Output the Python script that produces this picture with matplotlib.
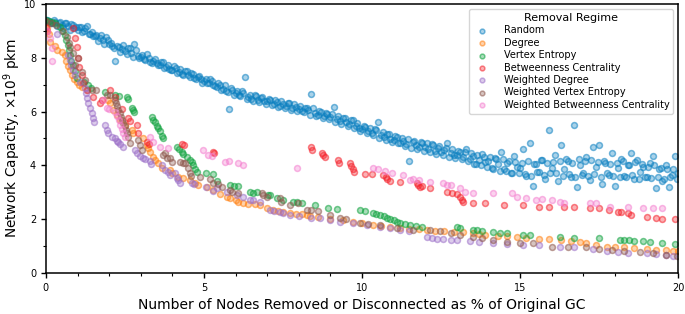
import matplotlib
matplotlib.use('Agg')
import matplotlib.pyplot as plt
from matplotlib.colors import to_rgba
from matplotlib.ticker import MultipleLocator

# Random removal: main pass (x step 0.1)
random_x_a = [
    0.0, 0.1, 0.2, 0.3, 0.4, 0.5, 0.6, 0.7, 0.8, 0.9,
    1.0, 1.1, 1.2, 1.3, 1.4, 1.5, 1.6, 1.7, 1.8, 1.9,
    2.0, 2.1, 2.2, 2.3, 2.4, 2.5, 2.6, 2.7, 2.8, 2.9,
    3.0, 3.1, 3.2, 3.3, 3.4, 3.5, 3.6, 3.7, 3.8, 3.9,
    4.0, 4.1, 4.2, 4.3, 4.4, 4.5, 4.6, 4.7, 4.8, 4.9,
    5.0, 5.1, 5.2, 5.3, 5.4, 5.5, 5.6, 5.7, 5.8, 5.9,
    6.0, 6.1, 6.2, 6.3, 6.4, 6.5, 6.6, 6.7, 6.8, 6.9,
    7.0, 7.1, 7.2, 7.3, 7.4, 7.5, 7.6, 7.7, 7.8, 7.9,
    8.0, 8.1, 8.2, 8.3, 8.4, 8.5, 8.6, 8.7, 8.8, 8.9,
    9.0, 9.1, 9.2, 9.3, 9.4, 9.5, 9.6, 9.7, 9.8, 9.9,
    10.0, 10.1, 10.2, 10.3, 10.4, 10.5, 10.6, 10.7, 10.8, 10.9,
    11.0, 11.1, 11.2, 11.3, 11.4, 11.5, 11.6, 11.7, 11.8, 11.9,
    12.0, 12.1, 12.2, 12.3, 12.4, 12.5, 12.6, 12.7, 12.8, 12.9,
    13.0, 13.1, 13.2, 13.3, 13.4, 13.5, 13.6, 13.7, 13.8, 13.9,
    14.0, 14.1, 14.2, 14.3, 14.4, 14.5, 14.6, 14.7, 14.8, 14.9,
    15.0, 15.1, 15.2, 15.3, 15.4, 15.5, 15.6, 15.7, 15.8, 15.9,
    16.0, 16.1, 16.2, 16.3, 16.4, 16.5, 16.6, 16.7, 16.8, 16.9,
    17.0, 17.1, 17.2, 17.3, 17.4, 17.5, 17.6, 17.7, 17.8, 17.9,
    18.0, 18.1, 18.2, 18.3, 18.4, 18.5, 18.6, 18.7, 18.8, 18.9,
    19.0, 19.1, 19.2, 19.3, 19.4, 19.5, 19.6, 19.7, 19.8, 19.9,
    20.0]
random_y_a = [
    9.42, 9.38, 9.30, 9.35, 9.28, 9.22, 9.30, 9.18, 9.25, 9.12,
    9.05, 9.15, 8.98, 9.20, 8.90, 8.80, 8.85, 8.72, 8.65, 8.78,
    8.50, 8.45, 7.88, 8.40, 8.32, 8.25, 8.35, 8.18, 8.50, 8.05,
    8.02, 7.95, 8.15, 7.85, 7.90, 7.80, 7.72, 7.85, 7.65, 7.60,
    7.55, 7.62, 7.48, 7.40, 7.52, 7.35, 7.45, 7.25, 7.30, 7.20,
    7.15, 7.05, 7.22, 6.98, 6.92, 7.00, 6.85, 6.78, 6.10, 6.80,
    6.70, 6.62, 6.75, 7.27, 6.55, 6.48, 6.60, 6.45, 6.52, 6.38,
    6.40, 6.45, 6.30, 6.35, 6.22, 6.28, 6.20, 6.32, 6.12, 6.18,
    6.10, 6.02, 6.15, 6.05, 6.64, 5.95, 5.88, 6.00, 5.85, 5.92,
    5.80, 6.17, 5.72, 5.65, 5.78, 5.60, 5.52, 5.68, 5.45, 5.40,
    5.35, 5.42, 5.28, 5.20, 5.35, 5.63, 5.12, 5.05, 5.18, 4.98,
    4.95, 5.05, 4.85, 4.92, 4.80, 4.16, 4.88, 4.75, 4.70, 4.82,
    4.70, 4.62, 4.78, 4.55, 4.65, 4.50, 4.58, 4.85, 4.45, 4.38,
    4.40, 4.48, 4.30, 4.60, 4.25, 4.35, 4.05, 4.20, 4.42, 4.12,
    4.15, 3.90, 4.28, 4.05, 4.50, 3.85, 4.10, 3.70, 4.35, 3.95,
    3.92, 4.60, 3.60, 4.83, 3.23, 4.05, 3.75, 4.20, 3.50, 5.32,
    3.90, 4.40, 3.40, 4.77, 3.85, 4.15, 3.55, 5.50, 3.20, 4.00,
    3.70, 4.30, 3.45, 4.70, 3.95, 4.77, 3.30, 4.10, 3.65, 4.45,
    3.22, 3.90, 4.25, 3.60, 4.00, 4.46, 3.50, 4.21, 3.75, 3.95,
    3.55, 4.10, 4.34, 3.15, 3.85, 3.40, 4.00, 3.20, 3.65, 4.34,
    3.70]

# Random removal: second pass (offset by half a step)
random_x_b = [
    0.05, 0.15, 0.25, 0.35, 0.45, 0.55, 0.65, 0.75, 0.85, 0.95,
    1.05, 1.15, 1.25, 1.35, 1.45, 1.55, 1.65, 1.75, 1.85, 1.95,
    2.05, 2.15, 2.25, 2.35, 2.45, 2.55, 2.65, 2.75, 2.85, 2.95,
    3.05, 3.15, 3.25, 3.35, 3.45, 3.55, 3.65, 3.75, 3.85, 3.95,
    4.05, 4.15, 4.25, 4.35, 4.45, 4.55, 4.65, 4.75, 4.85, 4.95,
    5.05, 5.15, 5.25, 5.35, 5.45, 5.55, 5.65, 5.75, 5.85, 5.95,
    6.05, 6.15, 6.25, 6.35, 6.45, 6.55, 6.65, 6.75, 6.85, 6.95,
    7.05, 7.15, 7.25, 7.35, 7.45, 7.55, 7.65, 7.75, 7.85, 7.95,
    8.05, 8.15, 8.25, 8.35, 8.45, 8.55, 8.65, 8.75, 8.85, 8.95,
    9.05, 9.15, 9.25, 9.35, 9.45, 9.55, 9.65, 9.75, 9.85, 9.95,
    10.05, 10.15, 10.25, 10.35, 10.45, 10.55, 10.65, 10.75, 10.85, 10.95,
    11.05, 11.15, 11.25, 11.35, 11.45, 11.55, 11.65, 11.75, 11.85, 11.95,
    12.05, 12.15, 12.25, 12.35, 12.45, 12.55, 12.65, 12.75, 12.85, 12.95,
    13.05, 13.15, 13.25, 13.35, 13.45, 13.55, 13.65, 13.75, 13.85, 13.95,
    14.05, 14.15, 14.25, 14.35, 14.45, 14.55, 14.65, 14.75, 14.85, 14.95,
    15.05, 15.15, 15.25, 15.35, 15.45, 15.55, 15.65, 15.75, 15.85, 15.95,
    16.05, 16.15, 16.25, 16.35, 16.45, 16.55, 16.65, 16.75, 16.85, 16.95,
    17.05, 17.15, 17.25, 17.35, 17.45, 17.55, 17.65, 17.75, 17.85, 17.95,
    18.05, 18.15, 18.25, 18.35, 18.45, 18.55, 18.65, 18.75, 18.85, 18.95,
    19.05, 19.15, 19.25, 19.35, 19.45, 19.55, 19.65, 19.75, 19.85, 19.95]
random_y_b = [
    9.40, 9.28, 9.42, 9.20, 9.35, 9.12, 9.28, 9.05, 9.22, 9.15,
    9.15, 8.95, 9.12, 8.88, 8.95, 8.80, 8.62, 8.85, 8.52, 8.68,
    8.55, 8.35, 8.45, 8.20, 8.48, 8.15, 8.35, 8.02, 8.28, 7.98,
    8.10, 7.92, 8.00, 7.82, 7.95, 7.75, 7.85, 7.62, 7.72, 7.55,
    7.68, 7.42, 7.60, 7.38, 7.50, 7.28, 7.40, 7.22, 7.32, 7.08,
    7.20, 7.05, 7.12, 6.95, 7.05, 6.80, 6.98, 6.72, 6.88, 6.62,
    6.78, 6.58, 6.70, 6.48, 6.62, 6.40, 6.58, 6.35, 6.55, 6.30,
    6.48, 6.25, 6.45, 6.18, 6.38, 6.12, 6.32, 6.05, 6.28, 6.02,
    6.20, 5.98, 6.15, 5.88, 6.12, 5.82, 6.02, 5.78, 5.95, 5.72,
    5.90, 5.62, 5.85, 5.55, 5.75, 5.45, 5.70, 5.38, 5.58, 5.28,
    5.48, 5.22, 5.40, 5.12, 5.32, 5.02, 5.25, 4.95, 5.15, 4.88,
    5.08, 4.82, 5.00, 4.72, 4.98, 4.65, 4.92, 4.60, 4.88, 4.55,
    4.82, 4.50, 4.75, 4.42, 4.72, 4.38, 4.65, 4.30, 4.60, 4.28,
    4.55, 4.22, 4.50, 4.15, 4.45, 4.05, 4.38, 4.00, 4.32, 3.95,
    4.30, 3.88, 4.25, 3.80, 4.22, 3.78, 4.15, 3.72, 4.12, 3.70,
    4.10, 3.68, 4.15, 3.62, 4.05, 3.75, 4.20, 3.65, 4.08, 3.72,
    4.12, 3.70, 4.18, 3.62, 4.25, 3.68, 4.10, 3.58, 4.22, 3.65,
    4.15, 3.60, 4.20, 3.66, 4.12, 3.55, 4.18, 3.70, 4.05, 3.62,
    4.10, 3.58, 4.15, 3.55, 4.02, 3.65, 4.12, 3.50, 4.05, 3.58,
    3.95, 3.52, 4.00, 3.58, 3.92, 3.48, 3.88, 3.55, 3.85, 3.50]

# Degree
degree_x = [0.0, 0.05, 0.1, 0.13, 0.3, 0.35, 0.5, 0.6, 0.65, 0.7, 0.75, 0.82, 0.9, 0.97,
            1.05, 1.14, 1.3, 1.97, 2.03, 2.13, 2.24, 2.34, 2.5, 2.72, 2.76, 3.08, 3.19,
            3.24, 3.29, 3.39, 3.45, 3.55, 3.66, 3.92, 3.98, 4.18, 4.35, 4.56, 4.72, 4.82,
            5.1, 5.3, 5.5, 5.72, 5.82, 6.0, 6.08, 6.23, 6.4, 6.6, 6.77, 7.0, 7.18, 7.35,
            7.5, 7.72, 7.9, 8.1, 8.26, 8.35, 8.6, 9.0, 9.4, 9.7, 10.0, 10.35, 10.6, 10.9,
            11.2, 11.5, 11.8, 12.05, 12.3, 12.6, 12.9, 13.2, 13.5, 13.7, 13.9, 14.3, 14.6,
            14.9, 15.2, 15.6, 15.9, 16.3, 16.6, 16.9, 17.1, 17.4, 17.75, 18.0, 18.3, 18.6,
            19.0, 19.3, 19.6, 19.85, 20.0]
degree_y = [9.35, 9.1, 8.9, 8.6, 8.45, 8.29, 8.2, 8.1, 7.9, 7.7, 7.55, 7.36, 7.2, 7.1,
            7.0, 6.92, 6.8, 6.43, 6.31, 6.06, 5.87, 5.69, 5.5, 5.32, 5.2, 5.0, 4.76,
            4.64, 4.5, 4.31, 4.2, 4.08, 3.9, 3.83, 3.71, 3.57, 3.53, 3.46, 3.35, 3.27,
            3.2, 3.08, 2.95, 2.83, 2.79, 2.7, 2.64, 2.6, 2.58, 2.55, 2.53, 2.42, 2.34, 2.3,
            2.27, 2.23, 2.2, 2.18, 2.16, 2.1, 2.06, 2.02, 1.97, 1.9, 1.85, 1.78, 1.74, 1.7,
            1.67, 1.64, 1.62, 1.6, 1.57, 1.55, 1.53, 1.52, 1.49, 1.46, 1.42, 1.38, 1.36,
            1.34, 1.3, 1.26, 1.25, 1.23, 1.2, 1.15, 1.1, 1.02, 0.97, 0.96, 0.95, 0.92,
            0.89, 0.86, 0.84, 0.82, 0.8]

# Vertex Entropy
ve_x = [0.0, 0.1, 0.2, 0.3, 0.44, 0.5, 0.6, 0.65, 0.7, 0.73, 0.76, 0.8, 0.86, 0.92, 0.98,
        1.2, 1.33, 1.43, 1.87, 2.18, 2.3, 2.56, 2.6, 2.72, 2.76, 2.8, 3.35, 3.4, 3.45, 3.5,
        3.55, 3.6, 3.66, 3.7, 4.14, 4.2, 4.3, 4.35, 4.45, 4.56, 4.61, 4.66, 4.72, 4.77, 5.08,
        5.3, 5.4, 5.82, 5.95, 6.08, 6.46, 6.55, 6.67, 7.03, 7.1, 7.3, 7.5, 7.82, 7.95, 8.1,
        8.5, 8.93, 9.2, 9.94, 10.1, 10.35, 10.45, 10.57, 10.7, 10.8, 10.9, 11.0, 11.1, 11.2,
        11.35, 11.52, 11.7, 11.9, 13.0, 13.1, 13.5, 13.65, 13.8, 14.15, 14.35, 14.6, 15.1,
        15.3, 16.27, 16.7, 17.5, 18.16, 18.3, 18.45, 18.6, 18.9, 19.1, 19.5, 19.9]
ve_y = [9.42, 9.38, 9.32, 9.28, 9.15, 9.0, 8.85, 8.65, 8.48, 8.3, 8.1, 7.9, 7.73, 7.5, 7.25,
        7.1, 6.99, 6.87, 6.72, 6.62, 6.58, 6.54, 6.46, 6.13, 6.05, 5.99, 5.8, 5.7, 5.6, 5.45,
        5.39, 5.28, 5.1, 5.02, 4.68, 4.6, 4.5, 4.42, 4.32, 4.2, 4.13, 4.01, 3.85, 3.75, 3.72,
        3.66, 3.4, 3.27, 3.25, 3.22, 3.01, 2.98, 2.99, 2.9, 2.88, 2.8, 2.72, 2.64, 2.62, 2.6,
        2.53, 2.41, 2.39, 2.34, 2.3, 2.24, 2.2, 2.16, 2.1, 2.04, 2.0, 1.95, 1.9, 1.87,
        1.82, 1.78, 1.75, 1.72, 1.7, 1.68, 1.6, 1.58, 1.56, 1.53, 1.5, 1.47, 1.41,
        1.4, 1.34, 1.3, 1.3, 1.23, 1.22, 1.22, 1.2, 1.2, 1.15, 1.1, 1.08]

# Betweenness Centrality
bc_x = [0.0, 0.03, 0.86, 0.92, 0.98, 1.02, 1.05, 1.13, 1.16, 1.29, 1.5, 1.71, 1.78, 2.03,
        2.18, 2.4, 2.6, 2.66, 2.87, 2.92, 3.19, 3.25, 4.3, 4.38, 5.28, 5.32, 8.4, 8.42, 8.73,
        8.78, 8.83, 9.24, 9.27, 9.62, 9.66, 9.7, 9.75, 10.1, 10.3, 10.67, 10.75, 10.8, 10.9,
        11.2, 11.74, 11.78, 11.82, 11.9, 12.15, 12.7, 12.85, 13.0, 13.1, 13.15, 13.2, 13.5,
        13.9, 14.5, 15.1, 15.6, 15.9, 16.4, 16.7, 17.2, 17.5, 17.8, 18.1, 18.2, 18.4, 18.5,
        19.0, 19.3, 19.5, 19.9]
bc_y = [9.15, 9.0, 9.1, 8.73, 8.4, 7.98, 7.67, 7.36, 7.05, 6.8, 6.55, 6.31, 6.45, 6.8,
        6.55, 6.1, 5.75, 5.65, 5.5, 5.2, 4.87, 4.8, 4.8, 4.74, 4.5, 4.45, 4.68, 4.56, 4.46,
        4.4, 4.31, 4.2, 4.08, 4.08, 3.98, 3.88, 3.75, 3.68, 3.66, 3.64, 3.56, 3.5, 3.4,
        3.38, 3.35, 3.28, 3.2, 3.22, 3.16, 3.01, 2.98, 2.92, 2.83, 2.7, 2.64, 2.6,
        2.6, 2.53, 2.53, 2.45, 2.45, 2.45, 2.44, 2.41, 2.4, 2.34, 2.28, 2.25, 2.22, 2.14,
        2.08, 2.04, 2.02, 2.0]

# Weighted Degree
wd_x = [0.35, 0.7, 0.76, 0.8, 0.85, 0.92, 1.08, 1.23, 1.26, 1.29, 1.33, 1.39, 1.45, 1.5,
        1.52, 1.87, 1.92, 1.97, 2.08, 2.18, 2.24, 2.28, 2.34, 2.45, 2.82, 2.87, 2.97, 3.08,
        3.13, 3.29, 3.32, 3.66, 3.77, 3.85, 3.92, 4.08, 4.14, 4.18, 4.24, 4.61, 4.7, 5.08,
        5.3, 5.4, 5.72, 6.03, 6.23, 6.46, 6.55, 6.77, 7.09, 7.2, 7.4, 7.5, 7.72, 8.0, 8.4,
        8.67, 9.0, 9.3, 9.7, 10.16, 10.57, 10.9, 11.2, 11.5, 12.05, 12.2, 12.37, 12.55, 12.8,
        13.0, 13.4, 13.7, 14.15, 14.6, 15.1, 15.6, 16.27, 16.7, 17.3, 17.75, 18.1, 18.4,
        19.0, 19.3, 19.6, 19.85]
wd_y = [8.9, 8.1, 7.92, 7.75, 7.55, 7.36, 7.1, 6.88, 6.7, 6.5, 6.31, 6.13, 5.94, 5.75,
        5.62, 5.5, 5.32, 5.2, 5.06, 5.0, 4.92, 4.87, 4.8, 4.68, 4.57, 4.46, 4.33, 4.27,
        4.25, 4.15, 4.06, 4.01, 3.83, 3.75, 3.64, 3.7, 3.53, 3.46, 3.35, 3.35, 3.3, 3.18,
        3.05, 3.16, 3.01, 2.9, 2.83, 2.7, 2.71, 2.64, 2.34, 2.32, 2.27, 2.23, 2.16, 2.1, 2.05,
        2.04, 1.95, 1.9, 1.84, 1.78, 1.72, 1.66, 1.6, 1.57, 1.34, 1.3, 1.26, 1.25, 1.23,
        1.24, 1.18, 1.15, 1.1, 1.08, 1.04, 1.03, 0.97, 0.95, 0.89, 0.82, 0.79, 0.74,
        0.74, 0.72, 0.68, 0.63]

# Weighted Vertex Entropy
wve_x = [0.0, 0.15, 0.32, 0.55, 0.66, 0.72, 0.76, 0.85, 0.92, 1.0, 1.13, 1.23, 1.45, 1.6,
         1.93, 2.03, 2.18, 2.22, 2.25, 2.28, 2.34, 2.38, 2.42, 2.45, 2.5, 2.53, 2.56, 2.6,
         2.66, 2.92, 2.97, 3.03, 3.7, 3.77, 3.82, 3.92, 3.98, 4.24, 4.35, 4.4, 4.5, 4.55,
         4.6, 4.87, 5.19, 5.3, 5.45, 5.56, 5.82, 5.9, 6.08, 6.83, 6.87, 6.98, 7.4, 7.45,
         7.72, 7.98, 8.26, 8.4, 8.6, 8.99, 9.3, 9.5, 9.94, 10.2, 10.57, 11.1, 11.6, 12.15,
         12.47, 12.8, 13.1, 13.5, 13.8, 14.15, 14.6, 15.0, 15.4, 16.0, 16.5, 17.1, 17.5,
         17.9, 18.3, 18.8, 19.2, 19.6, 19.95]
wve_y = [9.38, 9.3, 9.22, 9.0, 8.77, 8.55, 8.4, 8.18, 7.73, 7.98, 7.48, 7.17, 6.8, 6.8,
         6.62, 6.62, 6.43, 6.31, 6.2, 6.06, 5.94, 5.8, 5.69, 5.57, 5.45, 5.32, 5.2, 5.05,
         4.85, 4.94, 4.76, 4.57, 4.39, 4.46, 4.27, 4.27, 4.13, 4.13, 4.1, 4.08, 3.9, 3.72,
         3.6, 3.57, 3.5, 3.35, 3.3, 3.2, 3.08, 3.01, 2.97, 2.97, 2.9, 2.83, 2.79, 2.64,
         2.53, 2.6, 2.34, 2.33, 2.3, 2.16, 2.04, 2.0, 1.86, 1.82, 1.78, 1.67, 1.6, 1.58,
         1.55, 1.47, 1.41, 1.34, 1.3, 1.23, 1.15, 1.12, 1.1, 0.97, 0.96, 0.95, 0.9,
         0.86, 0.82, 0.78, 0.74, 0.67, 0.63]

# Weighted Betweenness Centrality
wbc_x = [0.05, 0.13, 0.19, 0.2, 1.8, 1.93, 2.0, 2.18, 2.25, 2.3, 2.35, 2.4, 2.45, 2.5,
         3.29, 3.39, 3.6, 3.86, 4.97, 5.14, 5.24, 5.66, 5.8, 6.08, 6.25, 7.93, 10.35, 10.5,
         10.73, 10.94, 11.3, 11.52, 11.6, 11.8, 12.15, 12.57, 12.7, 12.8, 13.1, 13.26, 13.5,
         14.15, 14.75, 14.9, 15.2, 15.5, 15.7, 16.0, 16.27, 16.4, 17.2, 17.4, 17.85, 18.4,
         18.9, 19.2, 19.5]
wbc_y = [9.0, 8.73, 8.36, 7.88, 6.43, 6.13, 6.1, 5.99, 5.85, 5.7, 5.5, 5.35, 5.2, 5.05,
         5.06, 4.87, 4.68, 4.64, 4.57, 4.39, 4.33, 4.13, 4.15, 4.08, 4.01, 3.9, 3.9, 3.88,
         3.8, 3.72, 3.64, 3.46, 3.49, 3.47, 3.38, 3.33, 3.27, 3.27, 3.16, 3.01, 2.97,
         2.97, 2.97, 2.83, 2.79, 2.71, 2.73, 2.72, 2.64, 2.6, 2.6, 2.6, 2.45, 2.45,
         2.41, 2.41, 2.41]

labels = ['Random', 'Degree', 'Vertex Entropy', 'Betweenness Centrality',
          'Weighted Degree', 'Weighted Vertex Entropy', 'Weighted Betweenness Centrality']
colors = ['#0a7fc0', '#ff7f0e', '#0aa03a', '#f5202a', '#9b6fc8', '#8c564b', '#f47fcf']

series = [
    (random_x_a + random_x_b, random_y_a + random_y_b),
    (degree_x, degree_y),
    (ve_x, ve_y),
    (bc_x, bc_y),
    (wd_x, wd_y),
    (wve_x, wve_y),
    (wbc_x, wbc_y),
]

fig = plt.figure(figsize=(6.85, 3.14), dpi=100)
ax = fig.add_axes([0.067, 0.131, 0.923, 0.856])

# lighter fill + stronger edge gives the ring look of the original markers
for (xs, ys), lab, col in zip(series, labels, colors):
    ax.scatter(xs, ys, s=18, facecolors=[to_rgba(col, 0.35)],
               edgecolors=[to_rgba(col, 0.55)], linewidths=1.1, label=lab)

ax.set_xlim(0, 20)
ax.set_ylim(0, 10)
ax.xaxis.set_major_locator(MultipleLocator(5))
ax.xaxis.set_minor_locator(MultipleLocator(1))
ax.yaxis.set_major_locator(MultipleLocator(2))
ax.yaxis.set_minor_locator(MultipleLocator(1))
ax.tick_params(which='major', length=3.5, width=1, labelsize=7)
ax.tick_params(which='minor', length=2, width=0.8)
for sp in ax.spines.values():
    sp.set_linewidth(1.1)

ax.set_xlabel('Number of Nodes Removed or Disconnected as % of Original GC', fontsize=10, labelpad=4)
ax.set_ylabel(r'Network Capacity, $\times 10^9$ pkm', fontsize=9.8)
ax.yaxis.set_label_coords(-0.037, 0.5)

leg = ax.legend(title='Removal Regime', loc='upper right', fontsize=7, title_fontsize=8,
                markerscale=0.8, handletextpad=1.2, borderpad=0.4, labelspacing=0.25)

fig.savefig('out.png', dpi=100)
